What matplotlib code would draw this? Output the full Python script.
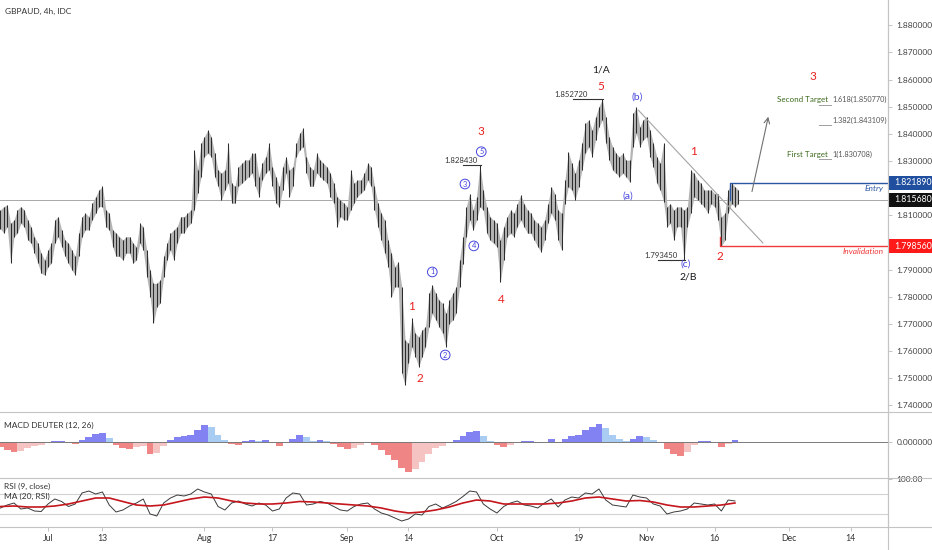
import numpy as np
import matplotlib
matplotlib.use("Agg")
import matplotlib.pyplot as plt
import matplotlib.transforms as mtransforms
from matplotlib.lines import Line2D
from matplotlib.patches import Rectangle

plt.rcParams['font.family'] = ['Lato', 'DejaVu Sans']

# ------------------------------------------------------------------
# data (x = trading day, 0 = Jul 1)
# 12h bars: high / low
bar_day = np.arange(-7, 102, 0.5)
bar_high = [
    1.8120, 1.8132, 1.8138, 1.8070, 1.8083, 1.8120, 1.8132, 1.8120, 1.8083, 1.8058,
    1.8021, 1.7997, 1.7960, 1.7935, 1.7972, 1.7997, 1.8083, 1.8095, 1.8046, 1.8009,
    1.7997, 1.7972, 1.7948, 1.8034, 1.8095, 1.8107, 1.8095, 1.8144, 1.8169, 1.8193,
    1.8206, 1.8120, 1.8107, 1.8046, 1.8034, 1.8021, 1.8009, 1.8021, 1.8021, 1.7997,
    1.7984, 1.8070, 1.8058, 1.7972, 1.7898, 1.7849, 1.7849, 1.7862, 1.7948, 1.7997,
    1.8034, 1.8046, 1.8058, 1.8095, 1.8095, 1.8107, 1.8120, 1.8341, 1.8267, 1.8365,
    1.8390, 1.8414, 1.8390, 1.8328, 1.8267, 1.8255, 1.8267, 1.8365, 1.8218, 1.8206,
    1.8279, 1.8291, 1.8304, 1.8304, 1.8328, 1.8328, 1.8242, 1.8291, 1.8316, 1.8365,
    1.8279, 1.8242, 1.8206, 1.8279, 1.8316, 1.8267, 1.8279, 1.8365, 1.8402, 1.8420,
    1.8316, 1.8279, 1.8267, 1.8328, 1.8304, 1.8291, 1.8279, 1.8255, 1.8218, 1.8169,
    1.8156, 1.8144, 1.8132, 1.8267, 1.8218, 1.8230, 1.8230, 1.8255, 1.8291, 1.8279,
    1.8206, 1.8144, 1.8107, 1.8082, 1.8008, 1.7959, 1.7910, 1.7929, 1.7836, 1.7640,
    1.7628, 1.7720, 1.7665, 1.7652, 1.7677, 1.7689, 1.7812, 1.7843, 1.7812, 1.7787,
    1.7775, 1.7738, 1.7787, 1.7812, 1.7836, 1.7935, 1.8021, 1.8131, 1.8180, 1.8119,
    1.8168, 1.8284, 1.8193, 1.8131, 1.8094, 1.8082, 1.8070, 1.8008, 1.8058, 1.8094,
    1.8119, 1.8107, 1.8143, 1.8174, 1.8143, 1.8119, 1.8107, 1.8082, 1.8070, 1.8058,
    1.8082, 1.8143, 1.8205, 1.8180, 1.8119, 1.8107, 1.8230, 1.8334, 1.8291, 1.8254,
    1.8303, 1.8365, 1.8438, 1.8451, 1.8414, 1.8463, 1.8500, 1.8527, 1.8463, 1.8389,
    1.8352, 1.8328, 1.8316, 1.8328, 1.8303, 1.8303, 1.8475, 1.8498, 1.8426, 1.8451,
    1.8463, 1.8414, 1.8365, 1.8316, 1.8291, 1.8365, 1.8131, 1.8143, 1.8119, 1.8131,
    1.8131, 1.8119, 1.8131, 1.8266, 1.8254, 1.8230, 1.8217, 1.8193, 1.8193, 1.8193,
    1.8180, 1.8180, 1.8094, 1.8107, 1.8193, 1.8219, 1.8205, 1.8193,
]
bar_low = [
    1.8050, 1.8034, 1.8058, 1.7923, 1.8021, 1.8034, 1.8070, 1.8058, 1.8009, 1.7997,
    1.7960, 1.7923, 1.7886, 1.7880, 1.7911, 1.7923, 1.7997, 1.8021, 1.7984, 1.7948,
    1.7923, 1.7898, 1.7880, 1.7948, 1.8021, 1.8046, 1.8046, 1.8083, 1.8107, 1.8132,
    1.8132, 1.8058, 1.8046, 1.7984, 1.7948, 1.7948, 1.7935, 1.7960, 1.7960, 1.7923,
    1.7935, 1.7997, 1.7972, 1.7874, 1.7800, 1.7702, 1.7763, 1.7776, 1.7874, 1.7935,
    1.7972, 1.7935, 1.7997, 1.8034, 1.8034, 1.8058, 1.8070, 1.8120, 1.8181, 1.8242,
    1.8316, 1.8328, 1.8316, 1.8242, 1.8206, 1.8156, 1.8193, 1.8218, 1.8144, 1.8144,
    1.8206, 1.8218, 1.8230, 1.8242, 1.8255, 1.8206, 1.8169, 1.8230, 1.8255, 1.8267,
    1.8206, 1.8144, 1.8132, 1.8193, 1.8255, 1.8169, 1.8206, 1.8316, 1.8341, 1.8353,
    1.8255, 1.8206, 1.8206, 1.8255, 1.8242, 1.8230, 1.8218, 1.8169, 1.8144, 1.8058,
    1.8095, 1.8083, 1.8083, 1.8120, 1.8144, 1.8169, 1.8181, 1.8193, 1.8230, 1.8206,
    1.8120, 1.8058, 1.8008, 1.7959, 1.7910, 1.7800, 1.7836, 1.7836, 1.7517, 1.7474,
    1.7554, 1.7615, 1.7579, 1.7542, 1.7579, 1.7615, 1.7689, 1.7738, 1.7714, 1.7689,
    1.7665, 1.7615, 1.7701, 1.7714, 1.7738, 1.7836, 1.7922, 1.8021, 1.8082, 1.8045,
    1.8082, 1.8131, 1.8119, 1.8033, 1.8008, 1.7996, 1.7984, 1.7855, 1.7935, 1.8021,
    1.8033, 1.8021, 1.8058, 1.8082, 1.8058, 1.8033, 1.8033, 1.8008, 1.7984, 1.7965,
    1.8008, 1.8070, 1.8107, 1.8082, 1.8008, 1.7972, 1.8143, 1.8205, 1.8193, 1.8156,
    1.8205, 1.8266, 1.8328, 1.8352, 1.8316, 1.8377, 1.8426, 1.8451, 1.8365, 1.8303,
    1.8266, 1.8254, 1.8242, 1.8254, 1.8242, 1.8223, 1.8352, 1.8402, 1.8352, 1.8377,
    1.8389, 1.8316, 1.8279, 1.8217, 1.8193, 1.8150, 1.8058, 1.8070, 1.8008, 1.8058,
    1.8058, 1.7935, 1.8058, 1.8107, 1.8168, 1.8156, 1.8143, 1.8131, 1.8107, 1.8143,
    1.8131, 1.8082, 1.7986, 1.8008, 1.8107, 1.8143, 1.8131, 1.8143,
]

# daily indicator values
ind_day = np.arange(-7, 102)
macd_hist = [
    -5, -8, -10, -9, -6, -4, -3, -1, 1, 1,
    -1, -2, 2, 5, 8, 9, 4, -3, -6, -7,
    -5, -4, -12, -11, -4, 2, 5, 6, 7, 12,
    17, 15, 7, 2, -2, -3, 1, 2, 1, 2,
    -1, -4, -1, 3, 7, 5, 1, 2, 1, -2,
    -5, -7, -6, -3, -1, -3, -8, -13, -18, -26,
    -30, -27, -20, -12, -6, -4, -1, 2, 6, 10,
    11, 6, 1, -3, -5, -3, -1, 1, 1, -1,
    0, 3, -1, 3, 6, 7, 12, 15, 18, 14,
    7, 3, 1, 3, 6, 5, 2, 0, -7, -12,
    -14, -10, -3, 1, 1, -1, -5, -2, 2,
]
rsi_val = [
    42, 48, 52, 40, 42, 36, 35, 50, 60, 55,
    45, 50, 72, 76, 70, 74, 48, 34, 38, 46,
    52, 60, 30, 26, 52, 62, 68, 66, 70, 80,
    74, 70, 45, 38, 52, 56, 50, 46, 52, 48,
    36, 40, 62, 72, 70, 48, 50, 55, 52, 45,
    38, 36, 45, 50, 52, 40, 32, 28, 22, 16,
    20, 30, 28, 45, 50, 42, 48, 55, 65, 76,
    74, 50, 40, 32, 45, 52, 56, 48, 46, 42,
    52, 60, 44, 58, 64, 62, 72, 70, 80, 58,
    48, 46, 44, 68, 64, 62, 50, 46, 30, 34,
    36, 40, 52, 50, 48, 50, 36, 58, 56,
]
rsi_ma_day = np.arange(-7, 102, 2)
rsi_ma = [
    45, 46, 44, 44, 46, 50, 56, 62, 62, 55, 48, 46, 48, 54, 60, 64, 62, 56, 52, 50,
    50, 52, 55, 54, 52, 50, 48, 46, 42, 36, 32, 34, 38, 44, 52, 58, 56, 50, 50, 50,
    50, 52, 56, 62, 64, 60, 56, 57, 54, 48, 44, 44, 46, 48, 52,
]

tick_days = [0, 8, 23, 33, 44, 53, 66, 78, 88, 98, 109, 118]
tick_names = ['Jul', '13', 'Aug', '17', 'Sep', '14', 'Oct', '19', 'Nov', '16', 'Dec', '14']

last_price = 1.81568
entry_price = 1.82189
invalid_price = 1.79856
entry_day = 100.3
invalid_day = 98.8

fib_levels = [1.850770, 1.843109, 1.830708]
fib_labels = ['1.618(1.850770)', '1.382(1.843109)', '1(1.830708)']
target_names = ['Second Target', '', 'First Target']

trend_days = [86.8, 105.1]
trend_prices = [1.8487, 1.7998]
arrow_from = (103.5, 1.8187)
arrow_to = (105.9, 1.8463)

# price callouts: (value, line start day, line end day, text day)
callouts = [(1.85272, 77.2, 81.6, 76.9), (1.82843, 61.0, 63.6, 60.7), (1.79345, 89.7, 93.7, 90.1)]

# wave labels: day, price, text, kind
waves = [
    (81.3, 1.8635, '1/A', 'k'), (81.2, 1.8576, '5', 'r'), (86.6, 1.8536, '(b)', 'b'),
    (94.9, 1.8334, '1', 'r'), (85.3, 1.8171, '(a)', 'b'), (93.8, 1.7921, '(c)', 'b'),
    (94.1, 1.7873, '2/B', 'k'), (98.8, 1.7947, '2', 'r'), (63.7, 1.8407, '3', 'r'),
    (53.5, 1.7762, '1', 'r'), (54.6, 1.7497, '2', 'r'), (66.6, 1.7788, '4', 'r'),
    (112.4, 1.8610, '3', 'r'),
]
circled = [(56.5, 1.7891, '1'), (58.4, 1.7585, '2'), (61.3, 1.8215, '3'),
           (62.6, 1.7987, '4'), (63.7, 1.8334, '5')]

# ------------------------------------------------------------------
W, H = 932, 550
RED = '#e8211f'
BLUE = '#4646dc'
AXC = '#c4c4c4'

fig = plt.figure(figsize=(W / 100, H / 100), dpi=100)


def pane(top, bottom):
    return [0, 1 - bottom / H, 888 / W, (bottom - top) / H]


ax = fig.add_axes(pane(0, 412))
ax_m = fig.add_axes(pane(412, 478), sharex=ax)
ax_r = fig.add_axes(pane(478, 527), sharex=ax)

for a in (ax, ax_m, ax_r):
    for s in ('top', 'left', 'bottom'):
        a.spines[s].set_visible(False)
    a.spines['right'].set_color(AXC)
    a.yaxis.tick_right()
    a.tick_params(axis='y', labelsize=6, labelcolor='#444', color=AXC, length=3, pad=3, width=0.7)
    a.tick_params(axis='x', bottom=False, labelbottom=False)

# separators
for yp in (412, 478, 527):
    fig.add_artist(Line2D([0, 1], [1 - yp / H] * 2, transform=fig.transFigure, color=AXC, lw=0.8))
fig.add_artist(Line2D([888 / W] * 2, [0, 1], transform=fig.transFigure, color=AXC, lw=0.8))

# ---- main price pane ----
ax.set_xlim(-7.06, 123.5)
ax.set_ylim(1.7375, 1.8893)
yt = [v for v in np.arange(1.74, 1.8801, 0.01) if abs(v - 1.80) > 0.001 and abs(v - 1.82) > 0.001]
ax.set_yticks(yt)
ax.set_yticklabels([f'{v:.6f}' for v in yt])

ax.fill_between(bar_day, bar_low, bar_high, color='#b4b4b4', lw=0)
ax.vlines(bar_day, bar_low, bar_high, color='#2c2c2c', lw=0.75)

ax.axhline(last_price, color='#a8a8a8', lw=0.7, zorder=0)
ax.plot(trend_days, trend_prices, color='#a4a4a4', lw=0.8)
ax.annotate('', xy=arrow_to, xytext=arrow_from,
            arrowprops=dict(arrowstyle='->', color='#707070', lw=0.8, shrinkA=0, shrinkB=0))

# entry / invalidation
ax.plot([entry_day, entry_day, 123.5], [last_price, entry_price, entry_price], color='#2a56a4', lw=1)
ax.plot([invalid_day, invalid_day, 123.5], [1.8020, invalid_price, invalid_price], color='#f03a3a', lw=1)
ax.text(122.9, entry_price - 0.0019, 'Entry', ha='right', va='center', style='italic',
        color='#2a56a4', fontsize=6)
ax.text(122.9, invalid_price - 0.0019, 'Invalidation', ha='right', va='center', style='italic',
        color='#f03a3a', fontsize=6)

trans = mtransforms.blended_transform_factory(ax.transAxes, ax.transData)
for price, fc in ((entry_price, '#1f4f9e'), (last_price, '#111111'), (invalid_price, '#ff1a1a')):
    ax.add_patch(Rectangle((1.0, price - 0.0025), 0.06, 0.0050, transform=trans,
                           fc=fc, ec='none', clip_on=False, zorder=10))
    ax.text(1.0 + 6 / 888, price, f'{price:.6f}', transform=trans, ha='left', va='center',
            fontsize=6.3, color='white', clip_on=False, zorder=11)

# fib targets
for lvl, lab, name in zip(fib_levels, fib_labels, target_names):
    ax.plot([113.4, 115.1], [lvl, lvl], color='#9e9e9e', lw=0.7)
    ax.text(115.4, lvl + 0.0004, lab, ha='left', va='bottom', fontsize=5.3, color='#555')
    if name:
        ax.text(114.7, lvl + 0.0004, name, ha='right', va='bottom', fontsize=5.8, color='#3d6b1e')

# price callouts
for val, d0, d1, dt in callouts:
    ax.plot([d0, d1], [val, val], color='#333', lw=0.8)
    ax.text(dt, val + 0.0006, f'{val:.6f}', ha='center', va='bottom', fontsize=5.6, color='#333')

colors = {'r': RED, 'b': BLUE, 'k': '#1a1a1a'}
for d, p, t, k in waves:
    fs = 8.5 if k == 'r' else 7.5
    ax.text(d, p, t, ha='center', va='center', fontsize=fs, color=colors[k])
for d, p, t in circled:
    ax.text(d, p, t, ha='center', va='center', fontsize=5.3, color=BLUE,
            bbox=dict(boxstyle='circle,pad=0.18', fc='white', ec=BLUE, lw=0.7))

fig.text(5 / W, 1 - 11 / H, 'GBPAUD, 4h, IDC', fontsize=6, color='#333', va='center')

# ---- MACD pane ----
bar_cols = []
prev = 0
for h in macd_hist:
    if h >= 0:
        bar_cols.append('#8282f2' if h >= prev else '#a9cdf2')
    else:
        bar_cols.append('#f08585' if h <= prev else '#f6c3c3')
    prev = h
ax_m.bar(ind_day, macd_hist, width=1.0, color=bar_cols, lw=0)
ax_m.axhline(0, color='#7a7a7a', lw=0.7)
ax_m.set_ylim(-36.3, 29.7)
ax_m.set_yticks([0])
ax_m.set_yticklabels(['0.000000'])
ax_m.text(0.004, 0.80, 'MACD DEUTER (12, 26)', transform=ax_m.transAxes, fontsize=6,
          color='#333', va='center')

# ---- RSI pane ----
ax_r.axhline(70, color='#d2d2d2', lw=0.8)
ax_r.axhline(30, color='#d2d2d2', lw=0.8)
ax_r.plot(ind_day, rsi_val, color='#3a3a3a', lw=0.7)
ax_r.plot(rsi_ma_day, rsi_ma, color='#c4161c', lw=1.2)
ax_r.set_ylim(4, 102)
ax_r.set_yticks([100])
ax_r.set_yticklabels(['100.00'])
ax_r.text(0.004, 0.83, 'RSI (9, close)', transform=ax_r.transAxes, fontsize=6, color='#333', va='center')
ax_r.text(0.004, 0.62, 'MA (20, RSI)', transform=ax_r.transAxes, fontsize=6, color='#333', va='center')

ax_r.set_xticks(tick_days)
ax_r.set_xticklabels(tick_names)
ax_r.tick_params(axis='x', bottom=True, labelbottom=True, labelsize=6.3, labelcolor='#333',
                 color=AXC, length=3, pad=2, width=0.7)
ax_r.set_xlim(-7.06, 123.5)

fig.savefig('out.png', dpi=100)
